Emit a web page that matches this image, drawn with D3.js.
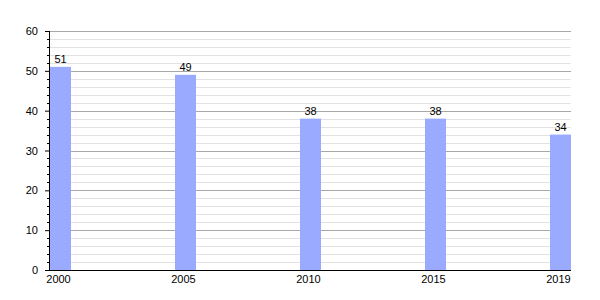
<!DOCTYPE html>
<html>
<head>
<meta charset="utf-8">
<script src="https://cdn.jsdelivr.net/npm/d3@7"></script>
<style>
  body { margin: 0; background: #fff; }
  text { font-family: "Liberation Sans", Arial, sans-serif; font-size: 11px; fill: #000; }
</style>
</head>
<body>
<div id="chart"></div>
<script>
// Data
const years = ["2000", "2005", "2010", "2015", "2019"];
const values = [51, 49, 38, 38, 34];
const yMax = 60;

// Dimensions of chart.
const margin = { top: 31, right: 29, bottom: 30, left: 50 },
      width = 600 - margin.left - margin.right,
      height = 300 - margin.top - margin.bottom;

const svg = d3.select("#chart").append("svg")
    .attr("width", 600)
    .attr("height", 300);

const g = svg.append("g")
    .attr("transform", "translate(" + margin.left + "," + margin.top + ")");

// Scales
const x = d3.scaleBand()
    .domain(years)
    .range([0, width])
    .paddingInner(0.832)
    .paddingOuter(0)
    .align(0);

const y = d3.scaleLinear()
    .domain([0, yMax])
    .range([height, 0]);

// Gridlines: minor every 2, major every 10
g.append("g").selectAll("line.minor")
    .data(d3.range(2, yMax + 1, 2).filter(d => d % 10 != 0))
    .join("line")
    .attr("x1", 0).attr("x2", width)
    .attr("y1", d => Math.round(y(d)) + 0.5).attr("y2", d => Math.round(y(d)) + 0.5)
    .attr("stroke", "#e2e2e2");
g.append("g").selectAll("line.major")
    .data(d3.range(10, yMax + 1, 10))
    .join("line")
    .attr("x1", 0).attr("x2", width)
    .attr("y1", d => Math.round(y(d)) + 0.5).attr("y2", d => Math.round(y(d)) + 0.5)
    .attr("stroke", "#a8a8a8");

// Bars
g.append("g").selectAll("rect")
    .data(values)
    .join("rect")
    .attr("x", (d, i) => x(years[i]))
    .attr("y", d => y(d))
    .attr("width", x.bandwidth())
    .attr("height", d => height - y(d))
    .attr("fill", "#9aabff");

// Value labels
g.append("g").selectAll("text")
    .data(values)
    .join("text")
    .attr("x", (d, i) => x(years[i]) + x.bandwidth() / 2)
    .attr("y", d => y(d) - 4)
    .attr("text-anchor", "middle")
    .text(d => d);

// y-axis (major ticks)
const yAxis = d3.axisLeft(y)
    .tickValues(d3.range(0, yMax + 1, 10))
    .tickSize(5)
    .tickPadding(7);
const yAxisEl = g.append("g").call(yAxis);
yAxisEl.select(".domain").remove();
yAxisEl.selectAll("text").style("font-size", "11px");

// minor ticks
g.append("g").selectAll("line")
    .data(d3.range(2, yMax + 1, 2).filter(d => d % 10 != 0))
    .join("line")
    .attr("x1", -3).attr("x2", 0)
    .attr("y1", d => Math.round(y(d)) + 0.5).attr("y2", d => Math.round(y(d)) + 0.5)
    .attr("stroke", "#000");

// axis lines
g.append("line")
    .attr("x1", -0.5).attr("x2", -0.5)
    .attr("y1", 0).attr("y2", height)
    .attr("stroke", "#000");
g.append("line")
    .attr("x1", -5).attr("x2", width)
    .attr("y1", height + 0.5).attr("y2", height + 0.5)
    .attr("stroke", "#000");

// x labels
g.append("g").selectAll("text")
    .data(years)
    .join("text")
    .attr("x", d => x(d) + x.bandwidth() / 2 - 2)
    .attr("y", height + 13)
    .attr("text-anchor", "middle")
    .text(d => d);
</script>
</body>
</html>
